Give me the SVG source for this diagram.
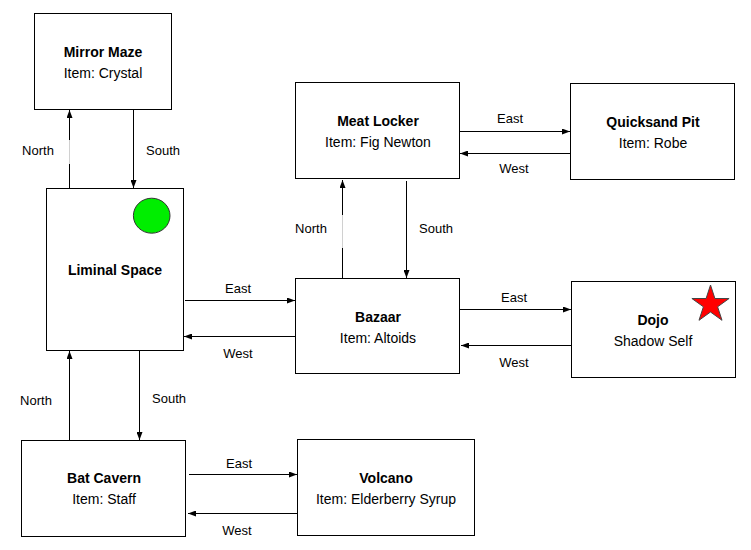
<svg xmlns="http://www.w3.org/2000/svg" width="751" height="550" viewBox="0 0 751 550">
<style>
.box{fill:#fff;stroke:#000;stroke-width:1}
.t{font-family:"Liberation Sans",Arial,sans-serif;font-size:14px;fill:#000;text-anchor:middle}
.b{font-weight:bold}
.lbl{font-family:"Liberation Sans",Arial,sans-serif;font-size:13px;fill:#000;text-anchor:middle}
.c{stroke:#000;stroke-width:1;fill:none}
.g{stroke:#d0d0d0;stroke-width:1;fill:none}
</style>
<defs>
<marker id="ah" markerWidth="8" markerHeight="6" refX="8" refY="3" orient="auto" markerUnits="userSpaceOnUse">
<path d="M0,0 L8,3 L0,6 Z" fill="#000"/>
</marker>
</defs>
<rect width="751" height="550" fill="#fff"/>
<g id="connectors">
<!-- Liminal -> Mirror Maze north -->
<line class="c" x1="69.5" y1="188" x2="69.5" y2="164"/>
<line class="g" x1="69.5" y1="164" x2="69.5" y2="140"/>
<line class="c" x1="69.5" y1="140" x2="69.5" y2="110" marker-end="url(#ah)"/>
<text class="lbl" x="38" y="155">North</text>
<!-- Mirror Maze -> Liminal south -->
<line class="c" x1="133.5" y1="110" x2="133.5" y2="188" marker-end="url(#ah)"/>
<text class="lbl" x="163" y="155">South</text>
<!-- Liminal -> Bazaar east -->
<line class="c" x1="185" y1="300.5" x2="295" y2="300.5" marker-end="url(#ah)"/>
<text class="lbl" x="238" y="293">East</text>
<line class="c" x1="295" y1="336.5" x2="184" y2="336.5" marker-end="url(#ah)"/>
<text class="lbl" x="238" y="358">West</text>
<!-- Bazaar -> Meat Locker north -->
<line class="c" x1="342.5" y1="278" x2="342.5" y2="248"/>
<line class="g" x1="342.5" y1="248" x2="342.5" y2="215"/>
<line class="c" x1="342.5" y1="215" x2="342.5" y2="180" marker-end="url(#ah)"/>
<text class="lbl" x="311" y="233">North</text>
<line class="c" x1="406.5" y1="181" x2="406.5" y2="278" marker-end="url(#ah)"/>
<text class="lbl" x="436" y="233">South</text>
<!-- Meat Locker <-> Quicksand -->
<line class="c" x1="460" y1="131.5" x2="570" y2="131.5" marker-end="url(#ah)"/>
<text class="lbl" x="510" y="123">East</text>
<line class="c" x1="570" y1="153.5" x2="460" y2="153.5" marker-end="url(#ah)"/>
<text class="lbl" x="514" y="173">West</text>
<!-- Bazaar <-> Dojo -->
<line class="c" x1="460" y1="309.5" x2="571" y2="309.5" marker-end="url(#ah)"/>
<text class="lbl" x="514" y="302">East</text>
<line class="c" x1="571" y1="345.5" x2="461" y2="345.5" marker-end="url(#ah)"/>
<text class="lbl" x="514" y="367">West</text>
<!-- Bat Cavern <-> Liminal -->
<line class="c" x1="69.5" y1="440" x2="69.5" y2="351" marker-end="url(#ah)"/>
<text class="lbl" x="36" y="405">North</text>
<line class="c" x1="139.5" y1="351" x2="139.5" y2="440" marker-end="url(#ah)"/>
<text class="lbl" x="169" y="403">South</text>
<!-- Bat Cavern <-> Volcano -->
<line class="c" x1="189" y1="474.5" x2="297" y2="474.5" marker-end="url(#ah)"/>
<text class="lbl" x="239" y="468">East</text>
<line class="c" x1="297" y1="513.5" x2="188" y2="513.5" marker-end="url(#ah)"/>
<text class="lbl" x="237" y="535">West</text>
</g>
<g id="mirror-maze">
<rect class="box" x="34.5" y="13.5" width="137" height="96"/>
<text class="t b" x="103" y="57">Mirror Maze</text>
<text class="t" x="103" y="78">Item: Crystal</text>
</g>
<g id="liminal-space">
<rect class="box" x="46.5" y="188.5" width="137" height="162"/>
<ellipse cx="151.7" cy="215.7" rx="18.3" ry="17.5" fill="#00ee00" stroke="#333" stroke-width="1"/>
<text class="t b" x="115" y="275">Liminal Space</text>
</g>
<g id="meat-locker">
<rect class="box" x="295.5" y="82.5" width="164" height="96"/>
<text class="t b" x="378" y="126">Meat Locker</text>
<text class="t" x="378" y="147">Item: Fig Newton</text>
</g>
<g id="quicksand-pit">
<rect class="box" x="570.5" y="83.5" width="164" height="96"/>
<text class="t b" x="653" y="127">Quicksand Pit</text>
<text class="t" x="653" y="148">Item: Robe</text>
</g>
<g id="bazaar">
<rect class="box" x="295.5" y="278.5" width="164" height="95"/>
<text class="t b" x="378" y="322">Bazaar</text>
<text class="t" x="378" y="343">Item: Altoids</text>
</g>
<g id="dojo">
<rect class="box" x="571.5" y="281.5" width="164" height="96"/>
<polygon points="710.5,285 714.9,298.5 729.1,298.5 717.6,306.8 722,320.3 710.5,312 699,320.3 703.4,306.8 691.9,298.5 706.1,298.5" fill="#ff0000" stroke="#444" stroke-width="1"/>
<text class="t b" x="653" y="325">Dojo</text>
<text class="t" x="653" y="346">Shadow Self</text>
</g>
<g id="bat-cavern">
<rect class="box" x="21.5" y="440.5" width="164" height="96"/>
<text class="t b" x="104" y="483">Bat Cavern</text>
<text class="t" x="104" y="504">Item: Staff</text>
</g>
<g id="volcano">
<rect class="box" x="297.5" y="439.5" width="177" height="96"/>
<text class="t b" x="386" y="483">Volcano</text>
<text class="t" x="386" y="504">Item: Elderberry Syrup</text>
</g>
</svg>
